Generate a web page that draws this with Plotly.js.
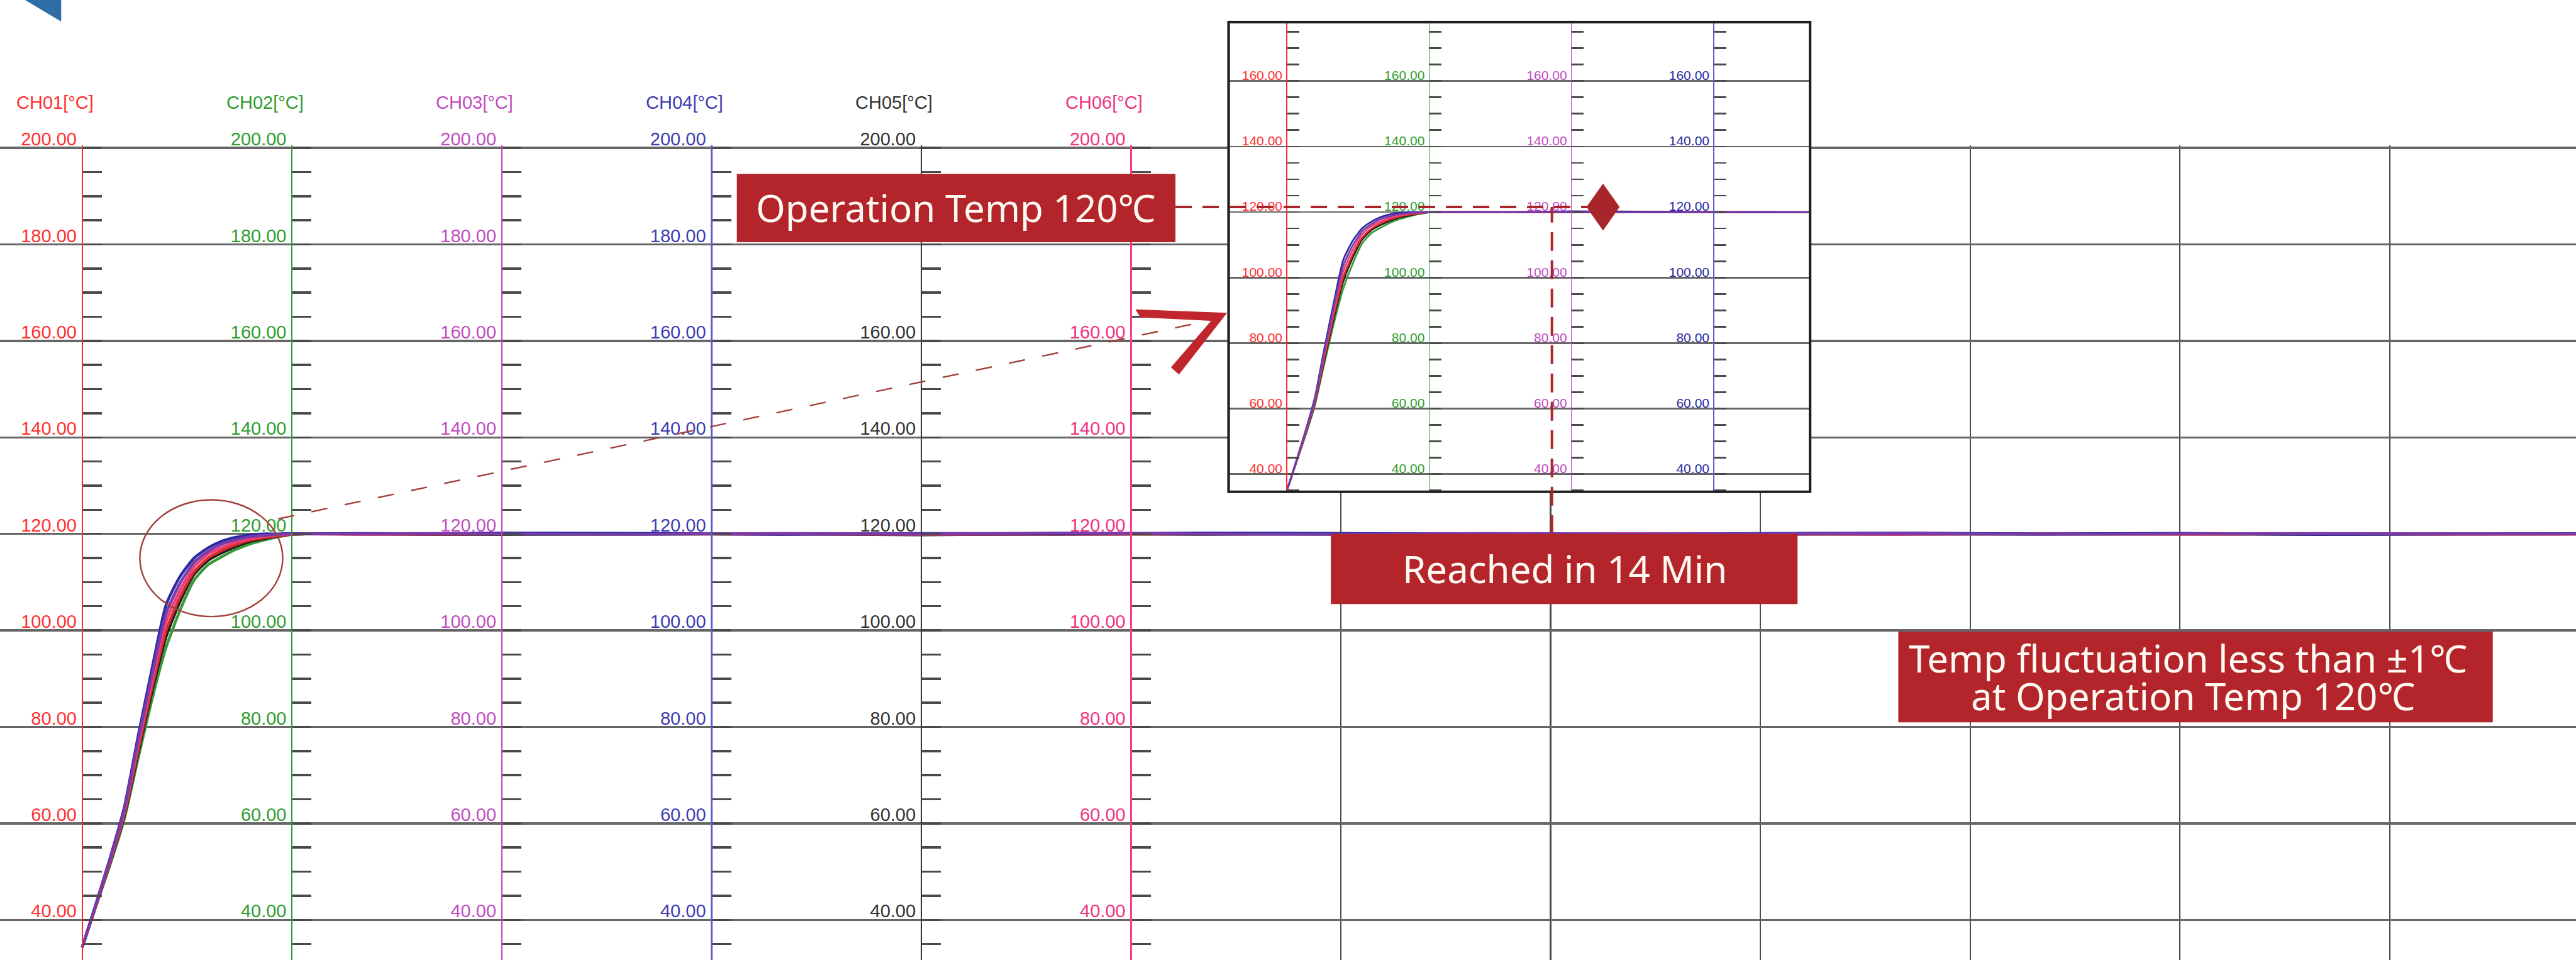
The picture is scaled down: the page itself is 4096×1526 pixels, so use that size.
<!DOCTYPE html>
<html><head><meta charset="utf-8">
<script src="https://cdn.plot.ly/plotly-3.0.1.min.js"></script>
<style>html,body{margin:0;padding:0;background:#fff;overflow:hidden}#chart{width:4096px;height:1526px}</style>
</head><body><div id="chart"></div>
<script>
// ---------------- data ----------------
const timeMin = [0,0.5,1,1.5,2,2.5,3,3.5,4,4.5,5,5.5,6,6.5,7,7.5,8,10,12.5,15,20,25,30,35,40,45,50,55,60,65,70,75,80,85,90];
const channels = ['CH01','CH02','CH03','CH04','CH05','CH06'];
const ch01 = [34.3,43.2,52.1,61.8,75.3,88.4,100.0,107.0,112.2,115.0,116.6,117.8,118.7,119.2,119.6,119.9,120.0,119.9,119.9,120.0,120.0,119.9,120.0,119.9,120.0,120.1,119.9,120.0,119.9,120.0,120.0,119.9,120.0,120.0,119.9];
const ch02 = [34.3,43.0,51.5,60.8,73.5,85.8,96.5,104.2,110.4,113.6,115.3,116.8,117.9,118.7,119.4,119.9,120.0,120.0,119.9,119.9,119.9,120.0,119.9,119.9,120.0,119.9,120.0,119.9,119.9,120.0,119.9,120.0,119.9,119.9,120.0];
const ch03 = [34.3,43.4,52.6,62.7,77.2,90.9,103.5,109.8,114.1,116.4,117.9,118.8,119.4,119.7,119.9,120.0,120.0,120.0,120.1,120.0,119.9,120.1,120.0,120.2,120.0,119.9,120.1,120.0,120.0,120.1,119.9,120.0,120.1,120.0,120.0];
const ch04 = [34.3,43.5,52.9,63.2,78.1,92.2,105.3,111.2,115.0,117.1,118.5,119.3,119.8,120.0,120.0,120.1,120.0,120.1,120.0,120.2,120.1,119.9,120.1,120.0,120.2,120.1,120.0,119.9,120.1,120.2,120.0,120.1,119.9,120.0,120.1];
const ch05 = [34.3,43.1,51.9,61.4,74.6,87.4,98.7,106.0,111.6,114.5,116.1,117.4,118.4,119.0,119.5,119.9,120.0,120.0,119.9,119.9,120.0,120.0,119.8,120.0,119.9,120.0,120.0,119.9,120.0,119.9,120.0,120.0,119.9,120.0,120.0];
const ch06 = [34.3,43.3,52.3,62.2,76.3,89.6,101.8,108.4,113.2,115.8,117.2,118.3,119.0,119.5,119.8,120.0,120.0,119.9,120.0,120.0,120.1,120.0,119.9,120.0,120.1,120.0,119.9,120.1,120.0,119.9,120.0,120.1,120.0,119.9,120.0];
const mainTickVals = [40,60,80,100,120,140,160,180,200];
const insetTickVals = [40,60,80,100,120,140,160];
// tick labels hidden under the "Operation Temp" box in the reference
const hiddenMainTicks = {CH05:[180], CH06:[180]};
const operationTemp = 120;
const reachedMin = 14;
const fluctuation = 1;

// ---------------- styles / layout ----------------
const REF_W = 5139, REF_H = 1915;
const PX = x => x / REF_W;
const PY = y => 1 - y / REF_H;
const TICKFONT = '"Liberation Sans", Arial, sans-serif';
const BOXFONT = '"Noto Sans", "Open Sans", "Noto Sans CJK KR", sans-serif';
const BOXRED = '#b3242b';
const axisColors = ['#ff2b2b', '#2e9e2e', '#bb44bb', '#5a5ac8', '#3a3a3a', '#ff3a86'];
const labelColors = ['#ff3030', '#2e9e2e', '#c04cc0', '#3c3cb0', '#333333', '#f0337f'];
const traceColors = {CH01:'#e22c2c', CH02:'#3a9a3a', CH03:'#7a3aa8', CH04:'#2b2ba6', CH05:'#1e1e1e', CH06:'#e8407e'};
const seriesByCh = {CH01:ch01, CH02:ch02, CH03:ch03, CH04:ch04, CH05:ch05, CH06:ch06};
const drawOrder = ['CH02','CH05','CH01','CH06','CH04','CH03'];

const DIV = 7.5;
const MAIN_X_RANGE = [-2.939, 89.16];
const MAIN_Y_RANGE = [31.69, 200.5];
const MAIN_DOMAIN_Y = [0, PY(290.2)];
const INSET_DOM_X = [PX(2451), PX(3611)];
const INSET_DOM_Y = [PY(981), PY(44)];
const INSET_X_RANGE = [-3.037, 27.60];
const INSET_Y_RANGE = [34.6, 178.0];

const mainPos = k => (k*DIV - MAIN_X_RANGE[0]) / (MAIN_X_RANGE[1] - MAIN_X_RANGE[0]);
const insetPos = k => INSET_DOM_X[0] + (k*DIV - INSET_X_RANGE[0]) / (INSET_X_RANGE[1] - INSET_X_RANGE[0]) * (INSET_DOM_X[1] - INSET_DOM_X[0]);

function yAxisDef(opts) {
  const hide = opts.hide || [];
  const vals = opts.tickvals.filter(v => !hide.includes(v));
  const ax = {
    domain: opts.domain, range: opts.range, anchor: 'free', position: opts.pos, side: 'left',
    showline: true, linecolor: opts.color, linewidth: opts.lw,
    tickmode: 'array', tickvals: vals, ticktext: vals.map(v => v.toFixed(2)),
    tickfont: {family: TICKFONT, size: opts.fs, color: opts.labelColor},
    ticks: 'inside', ticklen: opts.tl, tickwidth: opts.tw, tickcolor: '#4a4a4a',
    minor: {tickmode: 'linear', tick0: 0, dtick: 5, ticks: 'inside', ticklen: opts.tl, tickwidth: opts.tw, tickcolor: '#4a4a4a', showgrid: false},
    showgrid: opts.grid, gridcolor: '#666666', gridwidth: opts.gw,
    zeroline: false, ticklabelshift: opts.shift, ticklabelstandoff: 2, fixedrange: true
  };
  if (opts.overlaying) ax.overlaying = opts.overlaying;
  return ax;
}

const layout = {
  width: 4096, height: 1526,
  margin: {l:0, r:0, t:0, b:0, pad:0},
  paper_bgcolor: '#ffffff', plot_bgcolor: '#ffffff',
  showlegend: false,
  xaxis: {domain:[0,1], range: MAIN_X_RANGE, anchor:'y', showgrid:true, tickmode:'linear', tick0:0, dtick:DIV,
          gridcolor:'#4a4a4a', gridwidth:2.2, showticklabels:false, ticks:'', zeroline:false, showline:false, fixedrange:true},
  xaxis2: {domain: INSET_DOM_X, range: INSET_X_RANGE, anchor:'y7', showgrid:false, showticklabels:false, ticks:'',
           zeroline:false, showline:false, fixedrange:true},
  shapes: [], annotations: []
};

channels.forEach((ch, i) => {
  const key = i === 0 ? 'yaxis' : 'yaxis' + (i+1);
  layout[key] = yAxisDef({domain: MAIN_DOMAIN_Y, range: MAIN_Y_RANGE, pos: mainPos(i), color: axisColors[i],
    labelColor: labelColors[i], lw: 2.2, tickvals: mainTickVals, hide: hiddenMainTicks[ch], fs: 29, tl: 30, tw: 3.5,
    grid: i === 0, gw: 3.4, shift: -14, overlaying: i === 0 ? null : 'y'});
  layout.annotations.push({xref:'paper', yref:'paper', x: mainPos(i) - PX(54), y: PY(205), xanchor:'center', yanchor:'middle',
    text: ch + '[°C]', showarrow:false, font:{family: TICKFONT, size: 29, color: labelColors[i]}});
});
const insetColors = ['#ff2b2b', '#2e9e2e', '#bb44bb', '#6060d0'];
const insetLabelColors = ['#ff3030', '#2e9e2e', '#c04cc0', '#2a2aa0'];
for (let i = 0; i < 4; i++) {
  layout['yaxis' + (7+i)] = yAxisDef({domain: INSET_DOM_Y, range: INSET_Y_RANGE, pos: insetPos(i), color: insetColors[i],
    labelColor: insetLabelColors[i], lw: 1.6, tickvals: insetTickVals, fs: 21, tl: 19, tw: 2.8, grid: i === 0, gw: 2.6,
    shift: -9, overlaying: i === 0 ? null : 'y7'});
}

// ---------------- traces ----------------
const traces = [];
drawOrder.forEach(ch => {
  traces.push({type:'scatter', mode:'lines', x: timeMin, y: seriesByCh[ch], xaxis:'x', yaxis:'y',
    line:{color: traceColors[ch], width: 4.5, shape:'spline', smoothing:0.6}, hoverinfo:'skip', name: ch});
});
drawOrder.forEach(ch => {
  traces.push({type:'scatter', mode:'lines', x: timeMin, y: seriesByCh[ch], xaxis:'x2', yaxis:'y7',
    line:{color: traceColors[ch], width: 2.8, shape:'spline', smoothing:0.6}, hoverinfo:'skip', name: ch + ' inset'});
});
// placeholder traces so that every channel axis has its subplot
for (let i = 2; i <= 6; i++) traces.push({type:'scatter', mode:'lines', x:[timeMin[0]], y:[ch01[0]], xaxis:'x', yaxis:'y'+i, opacity:0, line:{width:0}, hoverinfo:'skip'});
for (let i = 8; i <= 10; i++) traces.push({type:'scatter', mode:'lines', x:[timeMin[0]], y:[ch01[0]], xaxis:'x2', yaxis:'y'+i, opacity:0, line:{width:0}, hoverinfo:'skip'});

// ---------------- shapes ----------------
const sh = layout.shapes;
const pathP = pts => pts.map((p, i) => (i ? 'L' : 'M') + PX(p[0]).toFixed(5) + ',' + PY(p[1]).toFixed(5)).join(' ') + ' Z';
// opaque inset background (sits in inset subplot layer, above the main subplot)
sh.push({type:'rect', xref:'x2', yref:'y7', x0:-1000, x1:1000, y0:-1000, y1:1000, layer:'below', fillcolor:'#ffffff', line:{width:0}});
// inset frame
sh.push({type:'rect', xref:'paper', yref:'paper', x0:INSET_DOM_X[0], x1:INSET_DOM_X[1], y0:INSET_DOM_Y[0], y1:INSET_DOM_Y[1], layer:'above', line:{color:'#1e1e1e', width:4.2}});
// ellipse around the knee
sh.push({type:'circle', xref:'paper', yref:'paper', x0:PX(279), x1:PX(564), y0:PY(1230), y1:PY(997), layer:'above', line:{color:'#a2403a', width:2.4}});
// thin dashed connector to the inset
sh.push({type:'line', xref:'paper', yref:'paper', x0:PX(555), y0:PY(1035), x1:PX(2410), y1:PY(640), layer:'above', line:{color:'#a2403a', width:2.4, dash:'26px,28px'}});
// chevron arrow
sh.push({type:'path', xref:'paper', yref:'paper', layer:'above', fillcolor:'#c0262b', line:{width:0},
  path: pathP([[2265,617],[2448,624],[2352,747],[2336,733],[2416,640],[2275,633]])});
// top-left blue corner
sh.push({type:'path', xref:'paper', yref:'paper', layer:'above', fillcolor:'#2f6da6', line:{width:0},
  path: pathP([[50,0],[122,0],[122,43]])});
// dashed operation-temperature guide
sh.push({type:'line', xref:'paper', yref:'paper', x0:PX(2345), y0:PY(413), x1:PX(3170), y1:PY(413), layer:'above', line:{color:'#a8262b', width:4, dash:'26px,17px'}});
// dashed "reached" guide at reachedMin on the inset time axis
sh.push({type:'line', xref:'x2', yref:'paper', x0:reachedMin, x1:reachedMin, y0:PY(1065), y1:PY(413), layer:'above', line:{color:'#a8262b', width:4, dash:'30px,15px'}});
// diamond marker
sh.push({type:'path', xref:'paper', yref:'paper', layer:'above', fillcolor:'#a8262b', line:{width:0},
  path: pathP([[3165,413],[3198,366],[3231,413],[3198,460]])});
// red label boxes
[[1470,347,2345,483],[2655,1065,3586,1205],[3787,1260,4973,1441]].forEach(b => {
  sh.push({type:'rect', xref:'paper', yref:'paper', x0:PX(b[0]), x1:PX(b[2]), y0:PY(b[3]), y1:PY(b[1]), layer:'above', fillcolor:BOXRED, line:{width:0}});
});

// ---------------- box texts ----------------
const boxTexts = [
  {t: `Operation Temp ${operationTemp}℃`, x: 1907, y: 414},
  {t: `Reached in ${reachedMin} Min`, x: 3122, y: 1135},
  {t: `Temp fluctuation less than ±${fluctuation}℃`, x: 4365, y: 1313},
  {t: `at Operation Temp ${operationTemp}℃`, x: 4375, y: 1388}
];
boxTexts.forEach(b => layout.annotations.push({xref:'paper', yref:'paper', x: PX(b.x), y: PY(b.y), xanchor:'center', yanchor:'middle',
  text: b.t, showarrow:false, font:{family: BOXFONT, size: 60, color:'#fffaf2'}}));

Plotly.newPlot('chart', traces, layout, {staticPlot:true, displayModeBar:false});
</script>
</body></html>
